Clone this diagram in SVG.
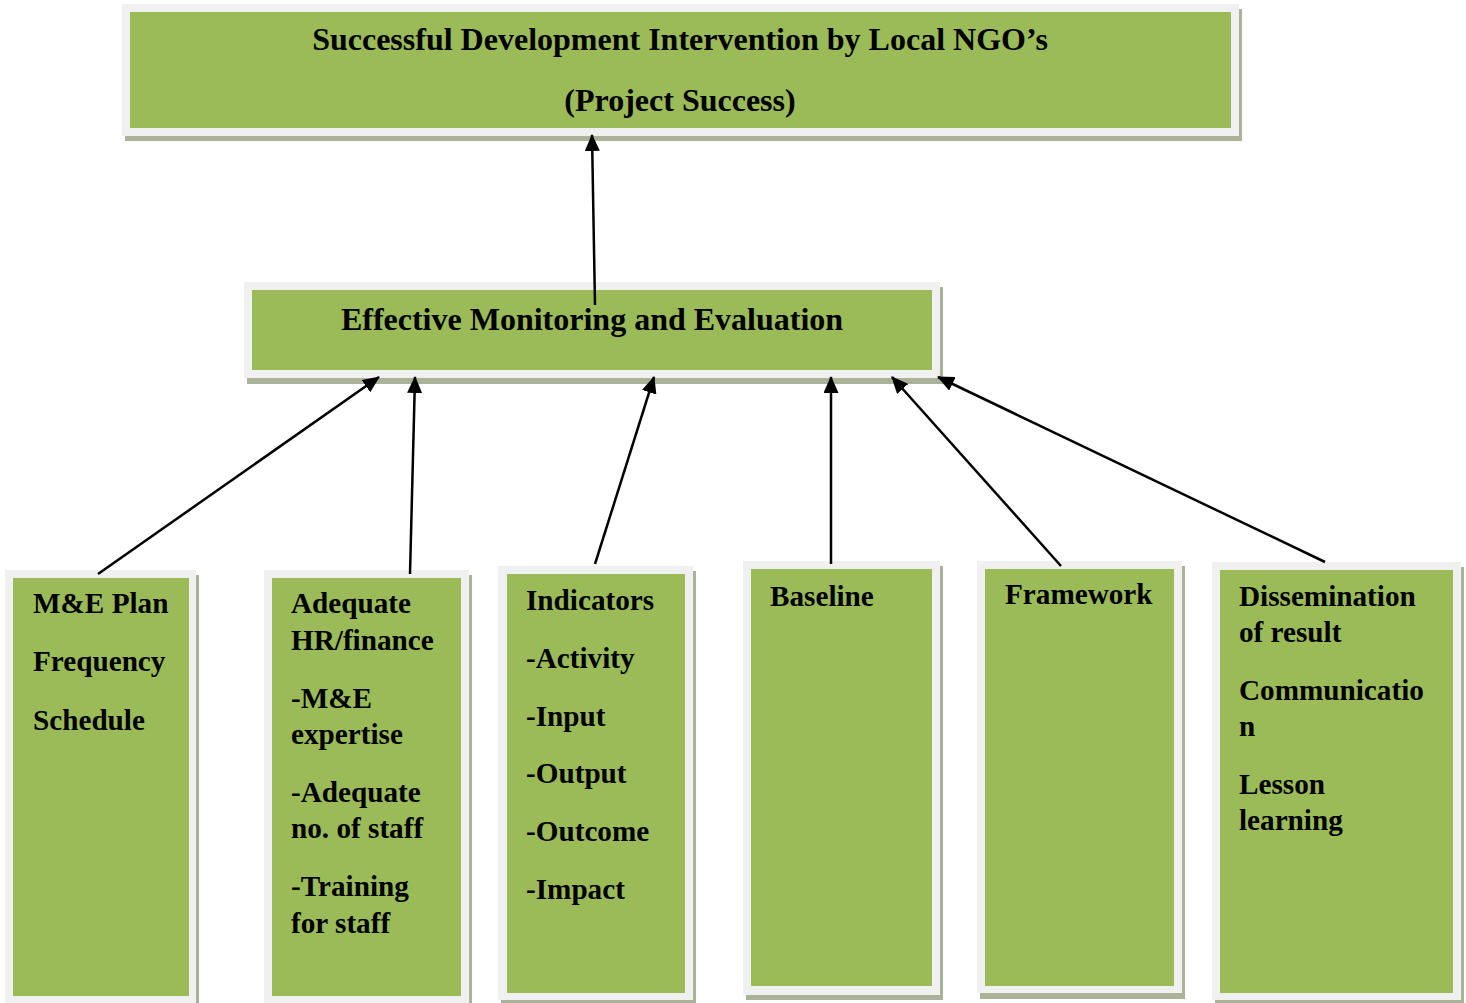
<svg xmlns="http://www.w3.org/2000/svg" width="1466" height="1003" viewBox="0 0 1466 1003">
<defs>
<style>
.sh{fill:#aab397}
.fr{fill:#f0f0f0}
.gr{fill:#9bbb59}
.t{font-family:"Liberation Serif","Times New Roman",serif;font-weight:bold;fill:#000}
.tt{font-size:32px}
.bt{font-size:29.2px}
.c{stroke:#000;stroke-width:2.5;fill:none;marker-end:url(#ah)}
</style>
<marker id="ah" markerUnits="userSpaceOnUse" markerWidth="17" markerHeight="15" refX="16" refY="7.5" orient="auto">
<path d="M0,0 L17,7.5 L0,15 Z" fill="#000"/>
</marker>
</defs>
<rect width="1466" height="1003" fill="#fff"/>
<g id="node-top">
<rect class="sh" x="125" y="9" width="1117" height="132"/>
<rect class="fr" x="122" y="4" width="1117" height="132"/>
<rect class="gr" x="130" y="12" width="1101" height="116"/>
<text class="t tt" x="680" y="50" text-anchor="middle">Successful Development Intervention by Local NGO’s</text>
<text class="t tt" x="680" y="111" text-anchor="middle">(Project Success)</text>
</g>
<g id="node-me">
<rect class="sh" x="247" y="287" width="696" height="97"/>
<rect class="fr" x="244" y="282" width="696" height="96"/>
<rect class="gr" x="252" y="290" width="680" height="80"/>
<text class="t tt" x="592" y="330" text-anchor="middle">Effective Monitoring and Evaluation</text>
</g>
<g id="node-plan">
<rect class="sh" x="8" y="575" width="191" height="440"/>
<rect class="fr" x="5" y="570" width="191" height="440"/>
<rect class="gr" x="13" y="578" width="176" height="418"/>
<text class="t bt" x="33" y="613">M&amp;E Plan</text>
<text class="t bt" x="33" y="671">Frequency</text>
<text class="t bt" x="33" y="730">Schedule</text>
</g>
<g id="node-hr">
<rect class="sh" x="267" y="575" width="205" height="440"/>
<rect class="fr" x="264" y="570" width="205" height="440"/>
<rect class="gr" x="272" y="578" width="189" height="418"/>
<text class="t bt" x="291" y="613">Adequate</text>
<text class="t bt" x="291" y="650">HR/finance</text>
<text class="t bt" x="291" y="708">-M&amp;E</text>
<text class="t bt" x="291" y="744">expertise</text>
<text class="t bt" x="291" y="802">-Adequate</text>
<text class="t bt" x="291" y="838">no. of staff</text>
<text class="t bt" x="291" y="896">-Training</text>
<text class="t bt" x="291" y="933">for staff</text>
</g>
<g id="node-indicators">
<rect class="sh" x="501" y="571" width="195" height="440"/>
<rect class="fr" x="498" y="566" width="195" height="434"/>
<rect class="gr" x="507" y="574" width="178" height="419"/>
<text class="t bt" x="526" y="610">Indicators</text>
<text class="t bt" x="526" y="668">-Activity</text>
<text class="t bt" x="526" y="726">-Input</text>
<text class="t bt" x="526" y="783">-Output</text>
<text class="t bt" x="526" y="841">-Outcome</text>
<text class="t bt" x="526" y="899">-Impact</text>
</g>
<g id="node-baseline">
<rect class="sh" x="746" y="566" width="197" height="434"/>
<rect class="fr" x="743" y="561" width="197" height="434"/>
<rect class="gr" x="751" y="569" width="181" height="417"/>
<text class="t bt" x="770" y="606">Baseline</text>
</g>
<g id="node-framework">
<rect class="sh" x="980" y="566" width="205" height="433"/>
<rect class="fr" x="977" y="561" width="205" height="432"/>
<rect class="gr" x="985" y="569" width="189" height="417"/>
<text class="t bt" x="1005" y="604">Framework</text>
</g>
<g id="node-dissemination">
<rect class="sh" x="1215" y="567" width="249" height="440"/>
<rect class="fr" x="1212" y="562" width="249" height="438"/>
<rect class="gr" x="1220" y="570" width="233" height="423"/>
<text class="t bt" x="1239" y="606">Dissemination</text>
<text class="t bt" x="1239" y="642">of result</text>
<text class="t bt" x="1239" y="700">Communicatio</text>
<text class="t bt" x="1239" y="736">n</text>
<text class="t bt" x="1239" y="794">Lesson</text>
<text class="t bt" x="1239" y="830">learning</text>
</g>
<g id="connectors">
<line class="c" x1="98" y1="574" x2="379" y2="377"/>
<line class="c" x1="410" y1="574" x2="415" y2="377"/>
<line class="c" x1="595" y1="564" x2="654" y2="377"/>
<line class="c" x1="831" y1="564" x2="831" y2="377"/>
<line class="c" x1="1061" y1="566" x2="892" y2="377"/>
<line class="c" x1="1325" y1="562" x2="938" y2="377"/>
<line class="c" x1="595" y1="305" x2="592" y2="135"/>
</g>
</svg>
